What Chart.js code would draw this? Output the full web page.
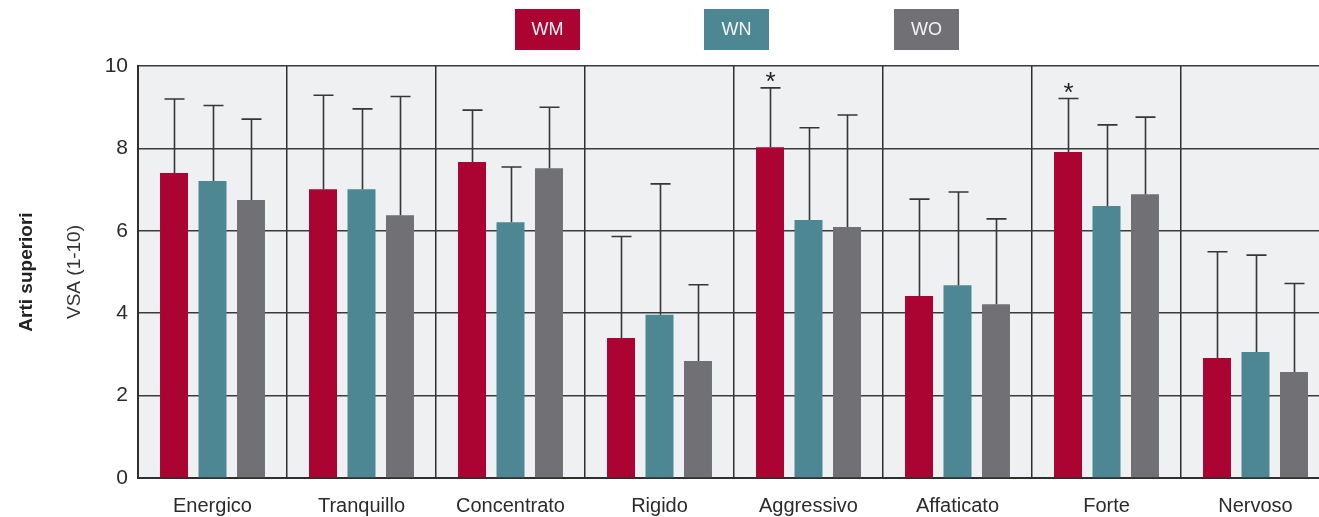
<!DOCTYPE html>
<html>
<head>
<meta charset="utf-8">
<script src="https://cdn.jsdelivr.net/npm/chart.js@4.4.1/dist/chart.umd.min.js"></script>
<style>
  html, body { margin: 0; padding: 0; background: #ffffff; overflow: hidden; }
  #wrap { width: 1330px; height: 517px; }
</style>
</head>
<body>
<div id="wrap"><canvas id="c" width="1330" height="517"></canvas></div>
<script>
// Categories and group means (VSA 1-10) with upper error-bar ends
const categories = ['Energico', 'Tranquillo', 'Concentrato', 'Rigido', 'Aggressivo', 'Affaticato', 'Forte', 'Nervoso'];
const seriesNames = ['WM', 'WN', 'WO'];
const seriesColors = ['#ab0433', '#4e8794', '#717075'];

const wmMean = [7.40, 7.01, 7.67, 3.40, 8.03, 4.42, 7.91, 2.91];
const wnMean = [7.21, 7.01, 6.21, 3.96, 6.26, 4.68, 6.60, 3.06];
const woMean = [6.75, 6.38, 7.52, 2.84, 6.09, 4.22, 6.89, 2.57];

const wmUpper = [9.20, 9.29, 8.93, 5.86, 9.47, 6.77, 9.21, 5.49];
const wnUpper = [9.04, 8.96, 7.55, 7.14, 8.50, 6.94, 8.57, 5.41];
const woUpper = [8.71, 9.26, 9.00, 4.69, 8.81, 6.29, 8.76, 4.72];

// Significance marks shown above the WM error bars
const wmSignificance = ['', '', '', '', '*', '', '*', ''];

const yTicks = [0, 2, 4, 6, 8, 10];

const means = [wmMean, wnMean, woMean];
const uppers = [wmUpper, wnUpper, woUpper];

const FONT = '"Liberation Sans", Arial, sans-serif';
const INK = '#2b2b2b';

const plotBackground = {
  id: 'plotBackground',
  beforeDraw(chart) {
    const { ctx, chartArea: a } = chart;
    ctx.save();
    ctx.fillStyle = '#eff0f2';
    ctx.fillRect(a.left, a.top, a.right - a.left, a.bottom - a.top);
    ctx.restore();
  }
};

const errorBars = {
  id: 'errorBars',
  afterDatasetsDraw(chart) {
    const { ctx } = chart;
    const y = chart.scales.y;
    ctx.save();
    ctx.strokeStyle = '#363636';
    ctx.lineWidth = 1.6;
    chart.data.datasets.forEach((ds, di) => {
      const meta = chart.getDatasetMeta(di);
      meta.data.forEach((bar, i) => {
        const x = Math.round(bar.x) + 0.5;
        const yTop = y.getPixelForValue(uppers[di][i]);
        const yMean = y.getPixelForValue(means[di][i]);
        ctx.beginPath();
        ctx.moveTo(x, yMean);
        ctx.lineTo(x, yTop);
        ctx.moveTo(x - 10, yTop);
        ctx.lineTo(x + 10, yTop);
        ctx.stroke();
        if (di === 0 && wmSignificance[i]) {
          ctx.fillStyle = '#222';
          ctx.font = '26px ' + FONT;
          ctx.textAlign = 'center';
          ctx.textBaseline = 'middle';
          ctx.fillText(wmSignificance[i], x, yTop - 5);
        }
      });
    });
    ctx.restore();
  }
};

const boxLegend = {
  id: 'boxLegend',
  afterDraw(chart) {
    const { ctx } = chart;
    const lefts = [515, 704, 894];
    ctx.save();
    seriesNames.forEach((name, i) => {
      ctx.fillStyle = seriesColors[i];
      ctx.fillRect(lefts[i], 9, 65, 41);
      ctx.fillStyle = '#f4f4f4';
      ctx.font = '18px ' + FONT;
      ctx.textAlign = 'center';
      ctx.textBaseline = 'middle';
      ctx.fillText(name, lefts[i] + 32.5, 30);
    });
    ctx.restore();
  }
};

const axisTitles = {
  id: 'axisTitles',
  afterDraw(chart) {
    const { ctx, chartArea: a } = chart;
    const mid = (a.top + a.bottom) / 2;
    ctx.save();
    ctx.fillStyle = '#222';
    ctx.textAlign = 'center';
    ctx.textBaseline = 'middle';
    ctx.translate(27, mid);
    ctx.rotate(-Math.PI / 2);
    ctx.font = 'bold 19px ' + FONT;
    ctx.fillText('Arti superiori', 0, 0);
    ctx.restore();
    ctx.save();
    ctx.fillStyle = '#333';
    ctx.textAlign = 'center';
    ctx.textBaseline = 'middle';
    ctx.translate(75, mid);
    ctx.rotate(-Math.PI / 2);
    ctx.font = '19px ' + FONT;
    ctx.fillText('VSA (1-10)', 0, 0);
    ctx.restore();
  }
};

new Chart(document.getElementById('c'), {
  type: 'bar',
  data: {
    labels: categories,
    datasets: means.map((m, i) => ({
      label: seriesNames[i],
      data: m,
      backgroundColor: seriesColors[i],
      borderWidth: 0,
      categoryPercentage: 0.775,
      barPercentage: 0.727
    }))
  },
  options: {
    responsive: false,
    animation: false,
    layout: { padding: { top: 66, left: 0, right: 0, bottom: 0 } },
    plugins: {
      legend: { display: false },
      tooltip: { enabled: false }
    },
    scales: {
      x: {
        offset: true,
        grid: { offset: true, color: '#2f2f2f', lineWidth: 1.5, drawTicks: false },
        border: { color: '#2f2f2f', width: 2 },
        ticks: { color: '#2b2b2b', font: { family: FONT, size: 20 }, padding: 16 },
        afterFit(s) { s.height = 39; }
      },
      y: {
        min: 0,
        max: 10,
        afterBuildTicks(s) { s.ticks = yTicks.map(v => ({ value: v })); },
        grid: { color: '#3a3a3a', lineWidth: 1.5, drawTicks: false },
        border: { color: '#2f2f2f', width: 2 },
        ticks: { color: INK, font: { family: FONT, size: 21 }, padding: 10 },
        afterFit(s) { s.width = 138; }
      }
    }
  },
  plugins: [plotBackground, errorBars, boxLegend, axisTitles]
});
</script>
</body>
</html>
